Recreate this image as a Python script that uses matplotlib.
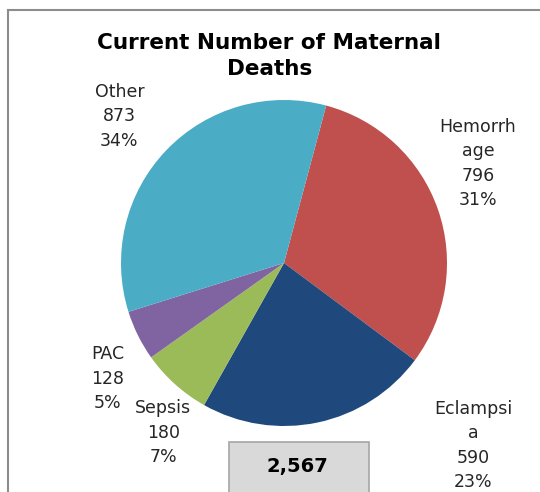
import matplotlib.pyplot as plt
from matplotlib.patches import Rectangle

causes = ["Hemorrhage", "Eclampsia", "Sepsis", "PAC", "Other"]
deaths = [796, 590, 180, 128, 873]
label_names = ["Hemorrh\nage", "Eclampsi\na", "Sepsis", "PAC", "Other"]
colors = ["#C0504D", "#1F497D", "#9BBB59", "#8064A2", "#4BACC6"]
# label centres in pie units (radius = 1)
label_pos = [(1.19, 0.61), (1.16, -1.12), (-0.74, -1.04), (-1.08, -0.71), (-1.01, 0.90)]

W, H = 540, 492
CX, CY, R = 284, 263, 163

fig = plt.figure(figsize=(W / 100, H / 100), dpi=100)
plt.rcParams["font.family"] = "DejaVu Sans"

ax = fig.add_axes([0, 0, 1, 1])

# chart frame
fig.patches.append(Rectangle((8 / W, -0.1), 1.2, 1.1 - 10 / H, transform=fig.transFigure,
                             fill=False, edgecolor="#8C8C8C", linewidth=1.5))

ax.pie(deaths, colors=colors, startangle=75, counterclock=False, radius=1,
       wedgeprops={"linewidth": 0})
ax.set_xlim(-CX / R, (W - CX) / R)
ax.set_ylim(-(H - CY) / R, CY / R)
ax.set_aspect("equal")
ax.axis("off")

total = sum(deaths)
for name, val, (x, y) in zip(label_names, deaths, label_pos):
    pct = round(100 * val / total)
    ax.text(x, y, f"{name}\n{val}\n{pct}%", ha="center", va="center",
            fontsize=12.5, color="#262626", linespacing=1.45)

ax.text(-0.09, 1.27, "Current Number of Maternal\nDeaths", ha="center", va="center",
        fontsize=15.5, fontweight="bold", color="black", linespacing=1.4)

ax.add_patch(Rectangle((-0.34, -1.6), 0.86, 0.5, facecolor="#D9D9D9",
                       edgecolor="#A6A6A6", linewidth=1.2))
ax.text(0.08, -1.25, f"{total:,}", ha="center", va="center",
        fontsize=14, fontweight="bold", color="black")

fig.savefig("out.png", dpi=100)
